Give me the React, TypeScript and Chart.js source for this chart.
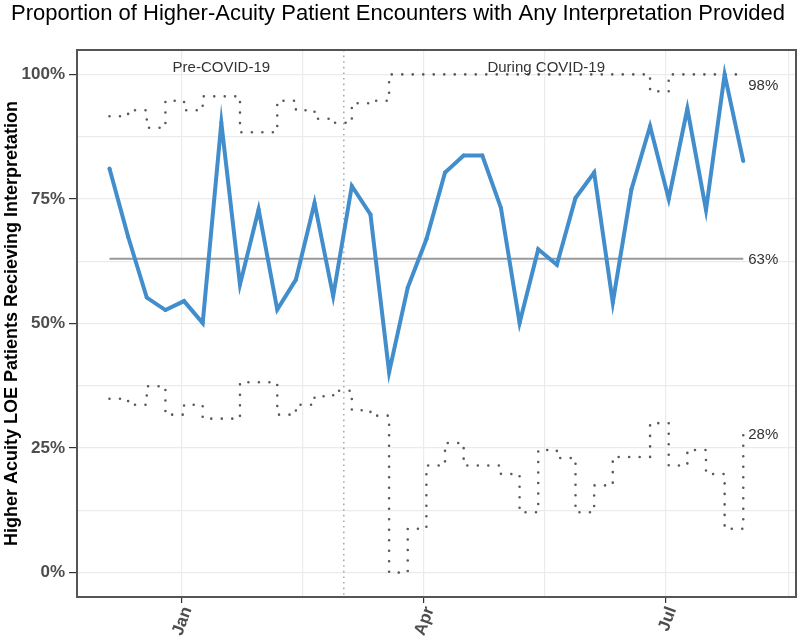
import React, { useEffect, useRef } from 'react';
import { Chart, registerables } from 'chart.js';

Chart.register(...registerables);

// ---- data ----
const weekDates = [
  '2019-12-05', '2019-12-12', '2019-12-19', '2019-12-26',
  '2020-01-02', '2020-01-09', '2020-01-16', '2020-01-23', '2020-01-30',
  '2020-02-06', '2020-02-13', '2020-02-20', '2020-02-27',
  '2020-03-05', '2020-03-12', '2020-03-19', '2020-03-26',
  '2020-04-02', '2020-04-09', '2020-04-16', '2020-04-23', '2020-04-30',
  '2020-05-07', '2020-05-14', '2020-05-21', '2020-05-28',
  '2020-06-04', '2020-06-11', '2020-06-18', '2020-06-25',
  '2020-07-02', '2020-07-09', '2020-07-16', '2020-07-23', '2020-07-30',
];

const proportion = [
  81.1, 67.4, 55.2, 52.7, 54.5, 50.1, 90.3, 57.8, 72.9, 52.8, 58.8, 74.2,
  55.5, 77.6, 71.9, 40.2, 57.2, 66.9, 80.3, 83.7, 83.7, 73.2, 50.1, 64.9,
  61.8, 75.2, 80.3, 54.2, 76.9, 89.6, 75.0, 93.1, 72.8, 100, 82.6,
];

const upperLimit = [
  91.6, 92.8, 89.3, 94.7, 92.8, 95.6, 95.6, 88.4, 88.4, 94.7, 92.8, 91.1,
  90.3, 94.2, 94.7, 100, 100, 100, 100, 100, 100, 100, 100, 100,
  100, 100, 100, 100, 100, 96.6, 100, 100, 100, 100, 100,
];

const lowerLimit = [
  34.9, 33.7, 37.4, 31.7, 33.7, 30.9, 30.9, 38.2, 38.2, 31.7, 33.7, 35.4,
  36.5, 32.6, 31.5, 0, 8.8, 21.5, 26.0, 21.5, 21.5, 19.8, 12.1, 24.6,
  23.0, 12.1, 17.5, 23.2, 23.2, 30.0, 21.5, 24.6, 19.8, 8.8, 27.7,
];

const centerValue = 63;

const quarterDates = ['2019-10-01', '2020-01-01', '2020-04-01', '2020-07-01', '2020-10-01'];
const quarterLabels = ['Oct', 'Jan', 'Apr', 'Jul', 'Oct'];

const yTickValues = [0, 25, 50, 75, 100];
const yTickLabels = ['0%', '25%', '50%', '75%', '100%'];

const phaseBreakDate = '2020-03-02';
const phaseLabels = ['Pre-COVID-19', 'During COVID-19'];
const phaseLabelDates = ['2020-01-16', '2020-05-17'];

const endLabels = ['98%', '63%', '28%'];
const endLabelValues = [98, 63, 28];

const chartTitle = 'Proportion of Higher-Acuity Patient Encounters with Any Interpretation Provided';
const yAxisTitle = 'Higher Acuity LOE Patients Recieving Interpretation';

// ---- helpers ----
const ORIGIN = Date.UTC(2020, 0, 1);
const toDay = (s: string) => {
  const [yy, mm, dd] = s.split('-').map(Number);
  return (Date.UTC(yy, mm - 1, dd) - ORIGIN) / 86400000;
};

const X_MIN = -39.2;
const X_MAX = 230.8;
const Y_MIN = -4.9;
const Y_MAX = 104.9;

const FONT = '"Liberation Sans", Arial, Helvetica, sans-serif';

const majorTicks = quarterDates.map((d, i) => ({ value: toDay(d), label: quarterLabels[i] }))
  .filter(t => t.value >= X_MIN && t.value <= X_MAX);
const minorTicks: number[] = [];
for (let i = 0; i < quarterDates.length - 1; i++) {
  const m = (toDay(quarterDates[i]) + toDay(quarterDates[i + 1])) / 2;
  if (m >= X_MIN && m <= X_MAX) minorTicks.push(m);
}

const overlayPlugin = {
  id: 'overlay',
  beforeDatasetsDraw(chart: any) {
    const { ctx, chartArea, scales } = chart;
    const x = scales.x;
    const px = x.getPixelForValue(toDay(phaseBreakDate));
    ctx.save();
    ctx.beginPath();
    ctx.setLineDash([1.6, 4]);
    ctx.strokeStyle = '#9a9a9a';
    ctx.lineWidth = 1.3;
    ctx.moveTo(px, chartArea.top);
    ctx.lineTo(px, chartArea.bottom);
    ctx.stroke();
    ctx.restore();
  },
  afterDatasetsDraw(chart: any) {
    const { ctx, chartArea, scales } = chart;
    const x = scales.x;
    const y = scales.y;
    ctx.save();
    // phase labels
    ctx.fillStyle = '#333333';
    ctx.font = `15px ${FONT}`;
    ctx.textAlign = 'center';
    ctx.textBaseline = 'middle';
    phaseLabels.forEach((t, i) => {
      ctx.fillText(t, x.getPixelForValue(toDay(phaseLabelDates[i])), y.getPixelForValue(101.4));
    });
    // end labels
    const lastX = x.getPixelForValue(toDay(weekDates[weekDates.length - 1]));
    ctx.textAlign = 'left';
    ctx.font = `15px ${FONT}`;
    endLabels.forEach((t, i) => {
      ctx.fillText(t, lastX + 5, y.getPixelForValue(endLabelValues[i]) + 1.5);
    });
    // panel border
    ctx.strokeStyle = '#555555';
    ctx.lineWidth = 2;
    ctx.strokeRect(chartArea.left, chartArea.top, chartArea.right - chartArea.left, chartArea.bottom - chartArea.top);
    ctx.restore();
  },
  afterDraw(chart: any) {
    const { ctx, chartArea } = chart;
    ctx.save();
    ctx.fillStyle = '#000000';
    ctx.font = `22px ${FONT}`;
    ctx.textAlign = 'left';
    ctx.textBaseline = 'alphabetic';
    ctx.fillText(chartTitle, 11, 19.5);
    // y axis title
    ctx.translate(16.5, (chartArea.top + chartArea.bottom) / 2);
    ctx.rotate(-Math.PI / 2);
    ctx.font = `bold 18px ${FONT}`;
    ctx.textAlign = 'center';
    ctx.textBaseline = 'alphabetic';
    ctx.fillText(yAxisTitle, 0, 0);
    ctx.restore();
  },
};

export default function App() {
  const canvasRef = useRef<HTMLCanvasElement | null>(null);

  useEffect(() => {
    document.body.style.margin = '0';
    const canvas = canvasRef.current;
    if (!canvas) return;
    const xs = weekDates.map(toDay);
    const pts = (vals: number[]) => vals.map((v, i) => ({ x: xs[i], y: v }));

    const chart = new Chart(canvas, {
      type: 'line',
      data: {
        datasets: [
          {
            label: 'Proportion',
            data: pts(proportion),
            borderColor: 'rgb(66,142,204)',
            backgroundColor: 'rgb(66,142,204)',
            borderWidth: 4,
            pointRadius: 2,
            pointBorderWidth: 0,
            pointBackgroundColor: 'rgb(66,142,204)',
            tension: 0,
          },
          {
            label: 'Center',
            data: pts(proportion.map(() => centerValue)),
            borderColor: '#999999',
            borderWidth: 1.8,
            pointRadius: 0,
          },
          {
            label: 'UCL',
            data: pts(upperLimit),
            borderColor: '#5a5a5a',
            borderWidth: 2.6,
            borderDash: [0, 10.5],
            borderCapStyle: 'round',
            stepped: 'before',
            pointRadius: 0,
          },
          {
            label: 'LCL',
            data: pts(lowerLimit),
            borderColor: '#5a5a5a',
            borderWidth: 2.6,
            borderDash: [0, 10.5],
            borderCapStyle: 'round',
            stepped: 'before',
            pointRadius: 0,
          },
        ],
      },
      options: {
        animation: false,
        responsive: true,
        maintainAspectRatio: false,
        events: [],
        layout: { padding: { left: 0, top: 50, right: 2, bottom: 0 } },
        plugins: {
          legend: { display: false },
          tooltip: { enabled: false },
          title: { display: false },
        },
        scales: {
          x: {
            type: 'linear',
            min: X_MIN,
            max: X_MAX,
            afterBuildTicks: (scale: any) => {
              const all = [...majorTicks.map(t => t.value), ...minorTicks].sort((a, b) => a - b);
              scale.ticks = all.map(v => ({ value: v }));
            },
            afterFit: (scale: any) => {
              scale.height = 46;
              scale.paddingLeft = 0;
              scale.paddingRight = 0;
            },
            border: { display: false },
            grid: {
              color: '#ebebeb',
              lineWidth: 1.2,
              tickLength: 6,
              tickColor: (c: any) => (majorTicks.some(t => Math.abs(t.value - c.tick?.value) < 1e-6) ? '#333333' : 'rgba(0,0,0,0)'),
            },
            ticks: {
              autoSkip: false,
              minRotation: 70,
              maxRotation: 70,
              padding: 1,
              labelOffset: 6,
              color: '#4d4d4d',
              font: { family: FONT, size: 17, weight: 'bold' },
              callback: (v: any) => {
                const m = majorTicks.find(t => Math.abs(t.value - Number(v)) < 1e-6);
                return m ? m.label : '';
              },
            },
          },
          y: {
            type: 'linear',
            min: Y_MIN,
            max: Y_MAX,
            afterBuildTicks: (scale: any) => {
              const vals: number[] = [];
              for (let i = 0; i <= 8; i++) vals.push(i * 12.5);
              scale.ticks = vals.map(v => ({ value: v }));
            },
            afterFit: (scale: any) => {
              scale.width = 77;
              scale.paddingTop = 0;
              scale.paddingBottom = 0;
            },
            border: { display: false },
            grid: {
              color: '#ebebeb',
              lineWidth: 1.2,
              tickLength: 8,
              tickColor: (c: any) => (yTickValues.includes(c.tick?.value) ? '#333333' : 'rgba(0,0,0,0)'),
            },
            ticks: {
              padding: 4,
              color: '#4d4d4d',
              font: { family: FONT, size: 17, weight: 'bold' },
              callback: (v: any) => {
                const i = yTickValues.indexOf(Number(v));
                return i >= 0 ? yTickLabels[i] : '';
              },
            },
          },
        },
      },
      plugins: [overlayPlugin],
    } as any);

    return () => chart.destroy();
  }, []);

  return (
    <div style={{ position: 'fixed', left: 0, top: 0, width: 800, height: 643, background: '#ffffff' }}>
      <canvas ref={canvasRef} />
    </div>
  );
}
